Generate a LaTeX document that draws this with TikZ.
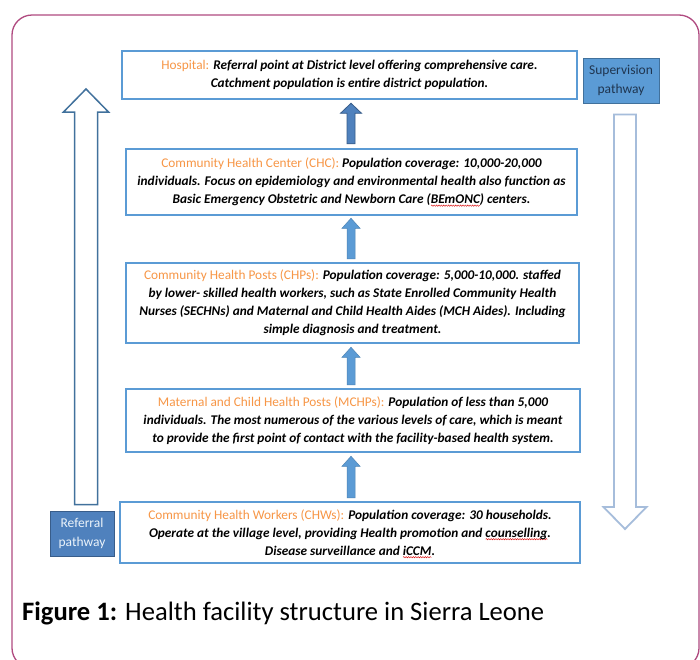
\documentclass[tikz,border=0pt]{standalone}
\usepackage{fontspec}
\setmainfont{Carlito}
\usetikzlibrary{calc,decorations.pathmorphing}
\definecolor{boxblue}{HTML}{5B9BD5}
\definecolor{darkarr}{HTML}{4F81BD}
\definecolor{darkedge}{HTML}{385D8A}
\definecolor{lblorange}{HTML}{F79646}
\definecolor{framecol}{HTML}{B04A80}
\definecolor{refedge}{HTML}{41719C}
\definecolor{supedge}{HTML}{A6BDDB}
\definecolor{suptext}{HTML}{1F3550}
\newcommand\lbl[1]{{\normalfont\color{lblorange}#1}}
\newsavebox\splbox
\newcommand\spl[1]{\sbox\splbox{#1}\rlap{\raisebox{-2.8pt}[0pt][0pt]{\tikz[x=1pt,y=1pt]\draw[red!85!black,line width=0.4pt,decorate,decoration={snake,amplitude=0.7pt,segment length=2.4pt}] (0,0)--(\wd\splbox,0);}}#1}
\newcommand\UpArr[6]{\draw[#1] let \p1=(#2), \p2=(#3) in
  (\x2-#4,\y1) -- (\x2-#4,\y2-#6) -- (\x2-#5,\y2-#6) -- (\x2,\y2) --
  (\x2+#5,\y2-#6) -- (\x2+#4,\y2-#6) -- (\x2+#4,\y1) -- cycle;}
\newcommand\DownArr[6]{\draw[#1] let \p1=(#2), \p2=(#3) in
  (\x2-#4,\y1) -- (\x2-#4,\y2+#6) -- (\x2-#5,\y2+#6) -- (\x2,\y2) --
  (\x2+#5,\y2+#6) -- (\x2+#4,\y2+#6) -- (\x2+#4,\y1) -- cycle;}
\begin{document}
\begin{tikzpicture}[x=1pt,y=-1pt,
  lvlbox/.style={draw=boxblue, line width=2.5pt, fill=white, align=center,
    inner sep=0pt, font=\fontsize{13.3}{18}\selectfont\bfseries\itshape},
  tagbox/.style={line width=0.8pt, align=center, inner sep=0pt,
    font=\fontsize{13.5}{19}\selectfont},
  smallarr/.style={fill=boxblue, draw=boxblue!85!black, line width=0.5pt},
  firstarr/.style={fill=darkarr, draw=darkedge, line width=0.8pt},
  refarr/.style={fill=white, draw=refedge, line width=1.5pt},
  suparr/.style={fill=white, draw=supedge, line width=1.8pt}]
\useasboundingbox (0,0) rectangle (700,659);
\fill[white] (0,0) rectangle (700,659);
\draw[framecol, line width=1.3pt, rounded corners=20pt] (12,15) rectangle (699,668);

\node[lvlbox, minimum width=455pt, minimum height=48pt] (hosp) at (349.5,75)
 {\lbl{Hospital:} Referral point at District level offering comprehensive care.\\
  Catchment population is entire district population.};
\node[lvlbox, minimum width=451pt, minimum height=66pt] (chc) at (351.5,182)
 {\lbl{Community Health Center (CHC):} Population coverage: 10,000-20,000\\
  individuals. Focus on epidemiology and environmental health also function as\\
  Basic Emergency Obstetric and Newborn Care (\spl{BEmONC}) centers.};
\node[lvlbox, minimum width=453pt, minimum height=80pt] (chp) at (352.5,303)
 {\lbl{Community Health Posts (CHPs):} Population coverage: 5,000-10,000. staffed\\
  by lower- skilled health workers, such as State Enrolled Community Health\\
  Nurses (SECHNs) and Maternal and Child Health Aides (MCH Aides). Including\\
  simple diagnosis and treatment.};
\node[lvlbox, minimum width=454pt, minimum height=63pt] (mchp) at (353,420.5)
 {\lbl{Maternal and Child Health Posts (MCHPs):} Population of less than 5,000\\
  individuals. The most numerous of the various levels of care, which is meant\\
  to provide the first point of contact with the facility-based health system.};
\node[lvlbox, minimum width=460pt, minimum height=61pt] (chw) at (350,532.5)
 {\lbl{Community Health Workers (CHWs):} Population coverage: 30 households.\\
  Operate at the village level, providing Health promotion and \spl{counselling}.\\
  Disease surveillance and \spl{iCCM}.};

\node[tagbox, fill=boxblue, draw=refedge, text=suptext,
  minimum width=76pt, minimum height=45pt] (sup) at (621,80.5) {Supervision\\pathway};
\node[tagbox, fill=darkarr, draw=darkedge, text=white!88!boxblue,
  minimum width=64pt, minimum height=45pt] (ref) at (82,533.5) {Referral\\pathway};

\coordinate (axis) at (351,0);
\UpArr{firstarr}{$(axis |- chc.north)+(0,-4)$}{$(axis |- hosp.south)+(0,3)$}{4pt}{10.5pt}{10pt}
\UpArr{smallarr}{$(axis |- chp.north)+(0,-3)$}{$(axis |- chc.south)+(0,2)$}{4pt}{9pt}{10pt}
\UpArr{smallarr}{$(axis |- mchp.north)+(0,-3)$}{$(axis |- chp.south)+(0,3)$}{4pt}{9pt}{10pt}
\UpArr{smallarr}{$(axis |- chw.north)+(0,-3)$}{$(axis |- mchp.south)+(0,3)$}{4pt}{9pt}{10pt}

\coordinate (reftip) at (86,89);
\UpArr{refarr}{$(ref.north)+(4,-6)$}{reftip}{11.5pt}{22.5pt}{23pt}
\coordinate (suptip) at (625,529);
\DownArr{suparr}{$(sup.south)+(4,11)$}{suptip}{11pt}{21.5pt}{22pt}

\node[anchor=base west, inner sep=0pt, font=\fontsize{26.6}{30}\selectfont] (cap) at (22,620)
 {\textbf{Figure 1:} Health facility structure in Sierra Leone};
\end{tikzpicture}
\end{document}
